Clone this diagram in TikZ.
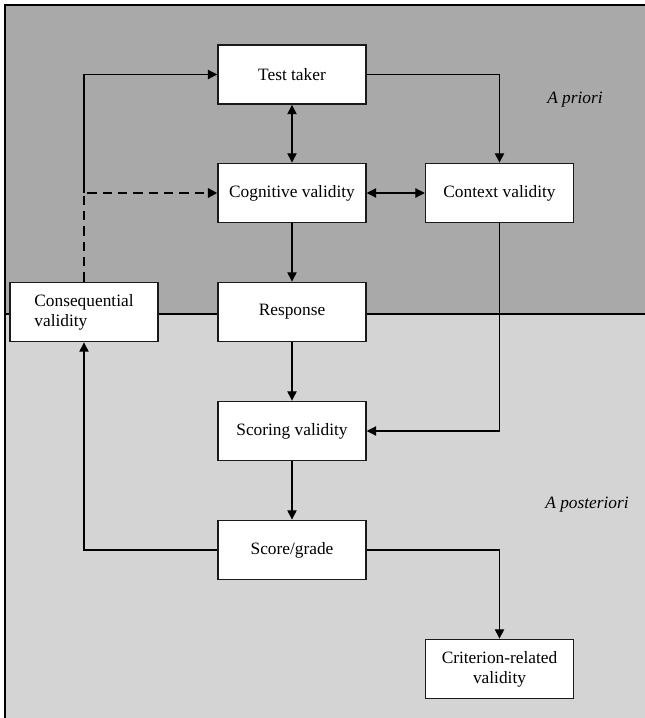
\documentclass[tikz,border=0pt]{standalone}
\usepackage{fontspec}
\setmainfont{Liberation Serif}
\usetikzlibrary{arrows.meta, calc}
\definecolor{priorfill}{HTML}{A9A9A9}
\definecolor{postfill}{HTML}{D4D4D4}
\definecolor{boxline}{HTML}{1A1A1A}
\tikzset{
  vbox/.style   = {rectangle, draw=boxline, fill=white, line width=1.1pt,
                   align=center, font=\fontsize{13}{15}\selectfont,
                   minimum width=111pt, minimum height=44.5pt, inner sep=2pt},
  flow/.style   = {-{Triangle[length=7pt, width=7pt]}, line width=0.8pt},
  biflow/.style = {{Triangle[length=7pt, width=7pt]}-{Triangle[length=7pt, width=7pt]}, line width=0.8pt},
  dashflow/.style={-{Triangle[length=7pt, width=7pt]}, line width=1.6pt, dash pattern=on 7pt off 4.5pt},
  zonelab/.style= {font=\fontsize{13}{15}\selectfont\itshape},
}
\begin{document}
\begin{tikzpicture}[x=0.75pt, y=-0.75pt]
  \useasboundingbox (0,0) rectangle (645,718);
  % two zones
  \fill[priorfill] (5,5) rectangle (645,314);
  \fill[postfill] (5,314) rectangle (645,718);
  \draw[line width=1pt] (5,718) -- (5,5) -- (645,5);
  \draw[line width=1pt] (5,314) -- (645,314);
  \node[zonelab] (prior) at (575,100) {A priori};
  \node[zonelab] (post) at (587,505) {A posteriori};
  % boxes
  \node[vbox] (taker) at (292,74.5) {Test taker};
  \node[vbox] (cog) at (292,193) {Cognitive validity};
  \node[vbox] (ctx) at (499.5,193) {Context validity};
  \node[vbox] (resp) at (292,312) {Response};
  \node[vbox, align=left] (cons) at (84,312) {Consequential\\validity};
  \node[vbox] (scor) at (292,431) {Scoring validity};
  \node[vbox] (grade) at (292,550) {Score/grade};
  \node[vbox] (crit) at (499.5,669) {Criterion-related\\validity};
  % connectors
  \coordinate (jn) at (cons.north |- cog.west);
  \draw[flow] (jn) |- (taker.west);
  \draw[dashflow] (cons.north) -- (jn) -- (cog.west);
  \draw[flow] (taker.east) -| (ctx.north);
  \draw[biflow] (taker) -- (cog);
  \draw[biflow] (cog) -- (ctx);
  \draw[flow] (cog) -- (resp);
  \draw[flow] (resp) -- (scor);
  \draw[flow] (ctx.south) |- (scor.east);
  \draw[flow] (scor) -- (grade);
  \draw[flow] (grade.west) -| (cons.south);
  \draw[flow] (grade.east) -| (crit.north);
\end{tikzpicture}
\end{document}
